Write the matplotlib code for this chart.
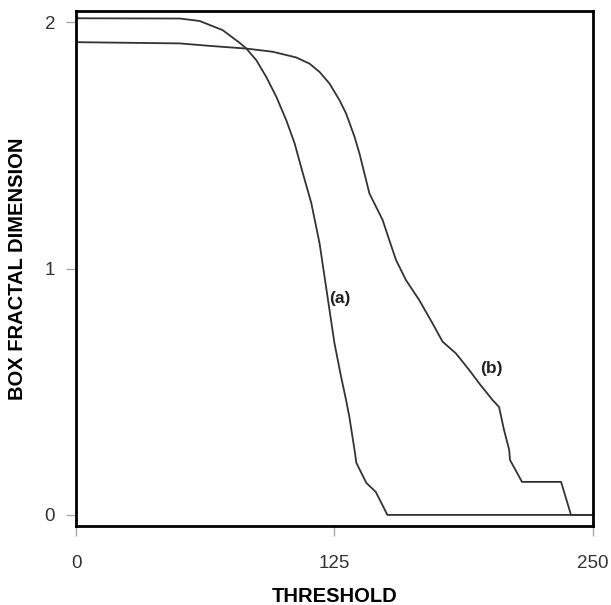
import numpy as np
import matplotlib
matplotlib.use('Agg')
import matplotlib.pyplot as plt

plt.rcParams['font.family'] = ['Liberation Sans', 'DejaVu Sans']

# curve (a)
thr_a = [0, 50.2, 59.8, 70.9, 79.2, 82.4, 87.2, 92.0, 96.9, 101.7, 105.7, 109.7, 113.8,
         117.8, 120.2, 122.6, 125.0, 128.2, 130.6, 132.2, 134.7, 135.6, 140.4, 145.0,
         150.6, 250]
dim_a = [2.016, 2.015, 2.005, 1.968, 1.916, 1.893, 1.846, 1.778, 1.697, 1.602, 1.509, 1.387,
         1.266, 1.102, 0.967, 0.832, 0.697, 0.561, 0.467, 0.398, 0.264, 0.211, 0.130, 0.093,
         0.0, 0.0]

# curve (b)
thr_b = [0, 50.2, 66.1, 82.4, 95.2, 106.5, 112.9, 117.8, 122.6, 127.4, 130.6, 134.7,
         137.1, 139.5, 141.9, 145.1, 148.3, 151.5, 154.8, 159.6, 166.0, 172.4, 177.3,
         183.7, 190.2, 195.0, 201.4, 204.6, 207.0, 209.5, 209.9, 215.7, 234.6, 239.4, 250]
dim_b = [1.919, 1.914, 1.903, 1.893, 1.880, 1.857, 1.832, 1.798, 1.751, 1.684, 1.630, 1.535,
         1.467, 1.386, 1.305, 1.251, 1.197, 1.116, 1.034, 0.953, 0.872, 0.778, 0.703,
         0.656, 0.588, 0.534, 0.467, 0.438, 0.345, 0.264, 0.223, 0.134, 0.134, 0.0, 0.0]

fig = plt.figure(figsize=(6.11, 6.05), dpi=100)
ax = fig.add_axes([0.1244, 0.1306, 0.846, 0.851])

ax.plot(thr_a, dim_a, color='#333333', lw=1.3)
ax.plot(thr_b, dim_b, color='#333333', lw=1.3)

ax.text(127.8, 0.879, '(a)', fontsize=12.5, fontweight='bold', color='#222222',
        ha='center', va='center')
ax.text(201.1, 0.595, '(b)', fontsize=12.5, fontweight='bold', color='#222222',
        ha='center', va='center')

ax.set_xlim(0, 250)
ax.set_ylim(-0.045, 2.045)
ax.set_xticks([0, 125, 250])
ax.set_yticks([0, 1, 2])

for s in ax.spines.values():
    s.set_linewidth(2)
    s.set_color('black')

ax.tick_params(direction='out', length=7, width=1, color='#aaaaaa',
               labelsize=13.5, labelcolor='#333333', pad=8)
ax.tick_params(axis='x', pad=14)

fig.text(335 / 611, 1 - 596 / 605, 'THRESHOLD', fontsize=14.5, fontweight='bold',
         ha='center', va='center')
fig.text(18 / 611, 1 - 269 / 605, 'BOX FRACTAL DIMENSION', fontsize=14.5,
         fontweight='bold', rotation=90, ha='center', va='center')

fig.savefig('out.png', dpi=100)
